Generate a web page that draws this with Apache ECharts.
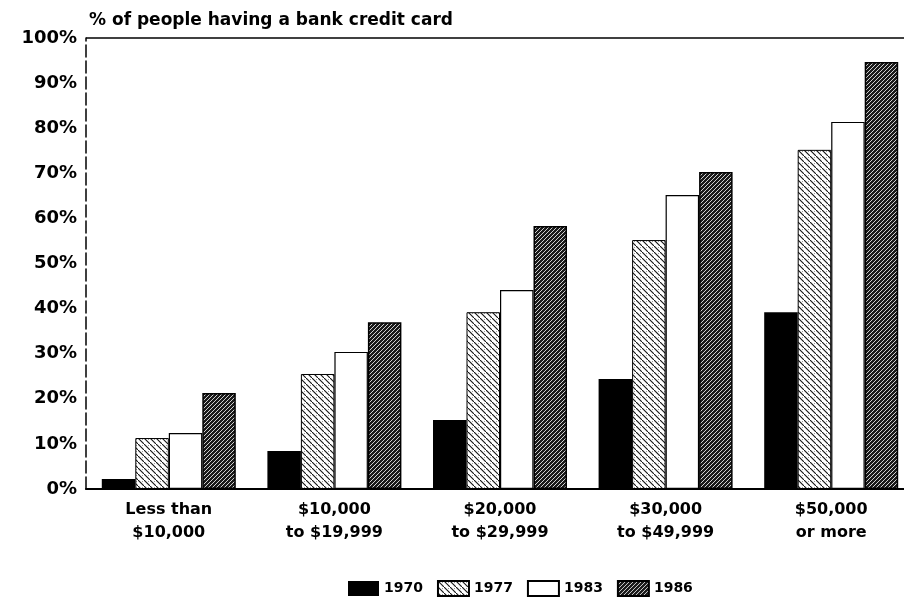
<!DOCTYPE html>
<html><head><meta charset="utf-8">
<script src="https://cdn.jsdelivr.net/npm/echarts@6/dist/echarts.min.js"></script>
<style>html,body{margin:0;padding:0;background:#fff}#c{width:904px;height:605px}</style>
</head><body><div id="c"></div>
<script>
const categories = ['Less than\n$10,000', '$10,000\nto $19,999', '$20,000\nto $29,999', '$30,000\nto $49,999', '$50,000\nor more'];
const years = ['1970', '1977', '1983', '1986'];
const v1970 = [2.2, 8.4, 15.3, 24.4, 39.2];
const v1977 = [11.3, 25.5, 39.2, 55.2, 75.2];
const v1983 = [12.4, 30.4, 44.1, 65.2, 81.4];
const v1986 = [21.3, 37.0, 58.3, 70.3, 94.7];
const yTicks = [0, 10, 20, 30, 40, 50, 60, 70, 80, 90, 100];

function pat77() {
  const c = document.createElement('canvas'); c.width = 6; c.height = 6;
  const g = c.getContext('2d');
  g.fillStyle = '#fff'; g.fillRect(0, 0, 6, 6);
  g.strokeStyle = '#111'; g.lineWidth = 1.1;
  g.beginPath(); g.moveTo(-1, -1); g.lineTo(7, 7); g.stroke();
  g.fillStyle = '#999'; g.fillRect(4, 1, 1, 1);
  return c;
}
function pat86() {
  const c = document.createElement('canvas'); c.width = 4; c.height = 4;
  const g = c.getContext('2d');
  g.fillStyle = '#1a1a1a'; g.fillRect(0, 0, 4, 4);
  g.strokeStyle = '#fff'; g.lineWidth = 0.8;
  g.beginPath(); g.moveTo(-1, 5); g.lineTo(5, -1); g.stroke();
  return c;
}

const font = 'DejaVu Sans';
const chart = echarts.init(document.getElementById('c'));
const barW = 33.5;
chart.setOption({
  animation: false,
  backgroundColor: '#fff',
  title: {
    text: '% of people having a bank credit card', left: 84, top: 7,
    textStyle: { fontFamily: font, fontWeight: 'bold', fontSize: 17, color: '#000' }
  },
  legend: {
    bottom: 3, left: 343, itemWidth: 31, itemHeight: 15, itemGap: 14,
    icon: 'rect',
    textStyle: { fontFamily: font, fontWeight: 'bold', fontSize: 14, color: '#000' },
    data: years
  },
  grid: { left: 86, top: 38, width: 828, bottom: 116, containLabel: false, outerBoundsMode: 'none' },
  xAxis: {
    type: 'category', data: categories,
    axisLine: { lineStyle: { color: '#000', width: 2 } },
    axisTick: { show: false },
    axisLabel: { fontFamily: font, fontWeight: 'bold', fontSize: 16, color: '#000', lineHeight: 23, margin: 9, interval: 0 }
  },
  yAxis: {
    type: 'value', min: 0, max: 100, interval: 10,
    axisLine: { show: true, lineStyle: { color: '#000', width: 1.5, type: [12, 4] } },
    axisTick: { show: false },
    splitLine: { show: false },
    axisLabel: {
      fontFamily: font, fontWeight: 'bold', fontSize: 18, color: '#000', margin: 9,
      formatter: v => yTicks.includes(v) ? v + '%' : ''
    }
  },
  series: [
    { name: '1970', type: 'bar', data: v1970, barWidth: barW, barGap: '0%',
      itemStyle: { color: '#000' },
      markLine: { silent: true, symbol: 'none', label: { show: false },
        lineStyle: { color: '#000', width: 1.5, type: 'solid' }, data: [{ yAxis: 100 }] } },
    { name: '1977', type: 'bar', data: v1977, barWidth: barW, barGap: '0%',
      itemStyle: { color: { image: pat77(), repeat: 'repeat' }, borderColor: '#000', borderWidth: 1 } },
    { name: '1983', type: 'bar', data: v1983, barWidth: barW, barGap: '0%',
      itemStyle: { color: '#fff', borderColor: '#000', borderWidth: 1.2 } },
    { name: '1986', type: 'bar', data: v1986, barWidth: barW, barGap: '0%',
      itemStyle: { color: { image: pat86(), repeat: 'repeat' }, borderColor: '#000', borderWidth: 1.5 } }
  ]
});
</script></body></html>
